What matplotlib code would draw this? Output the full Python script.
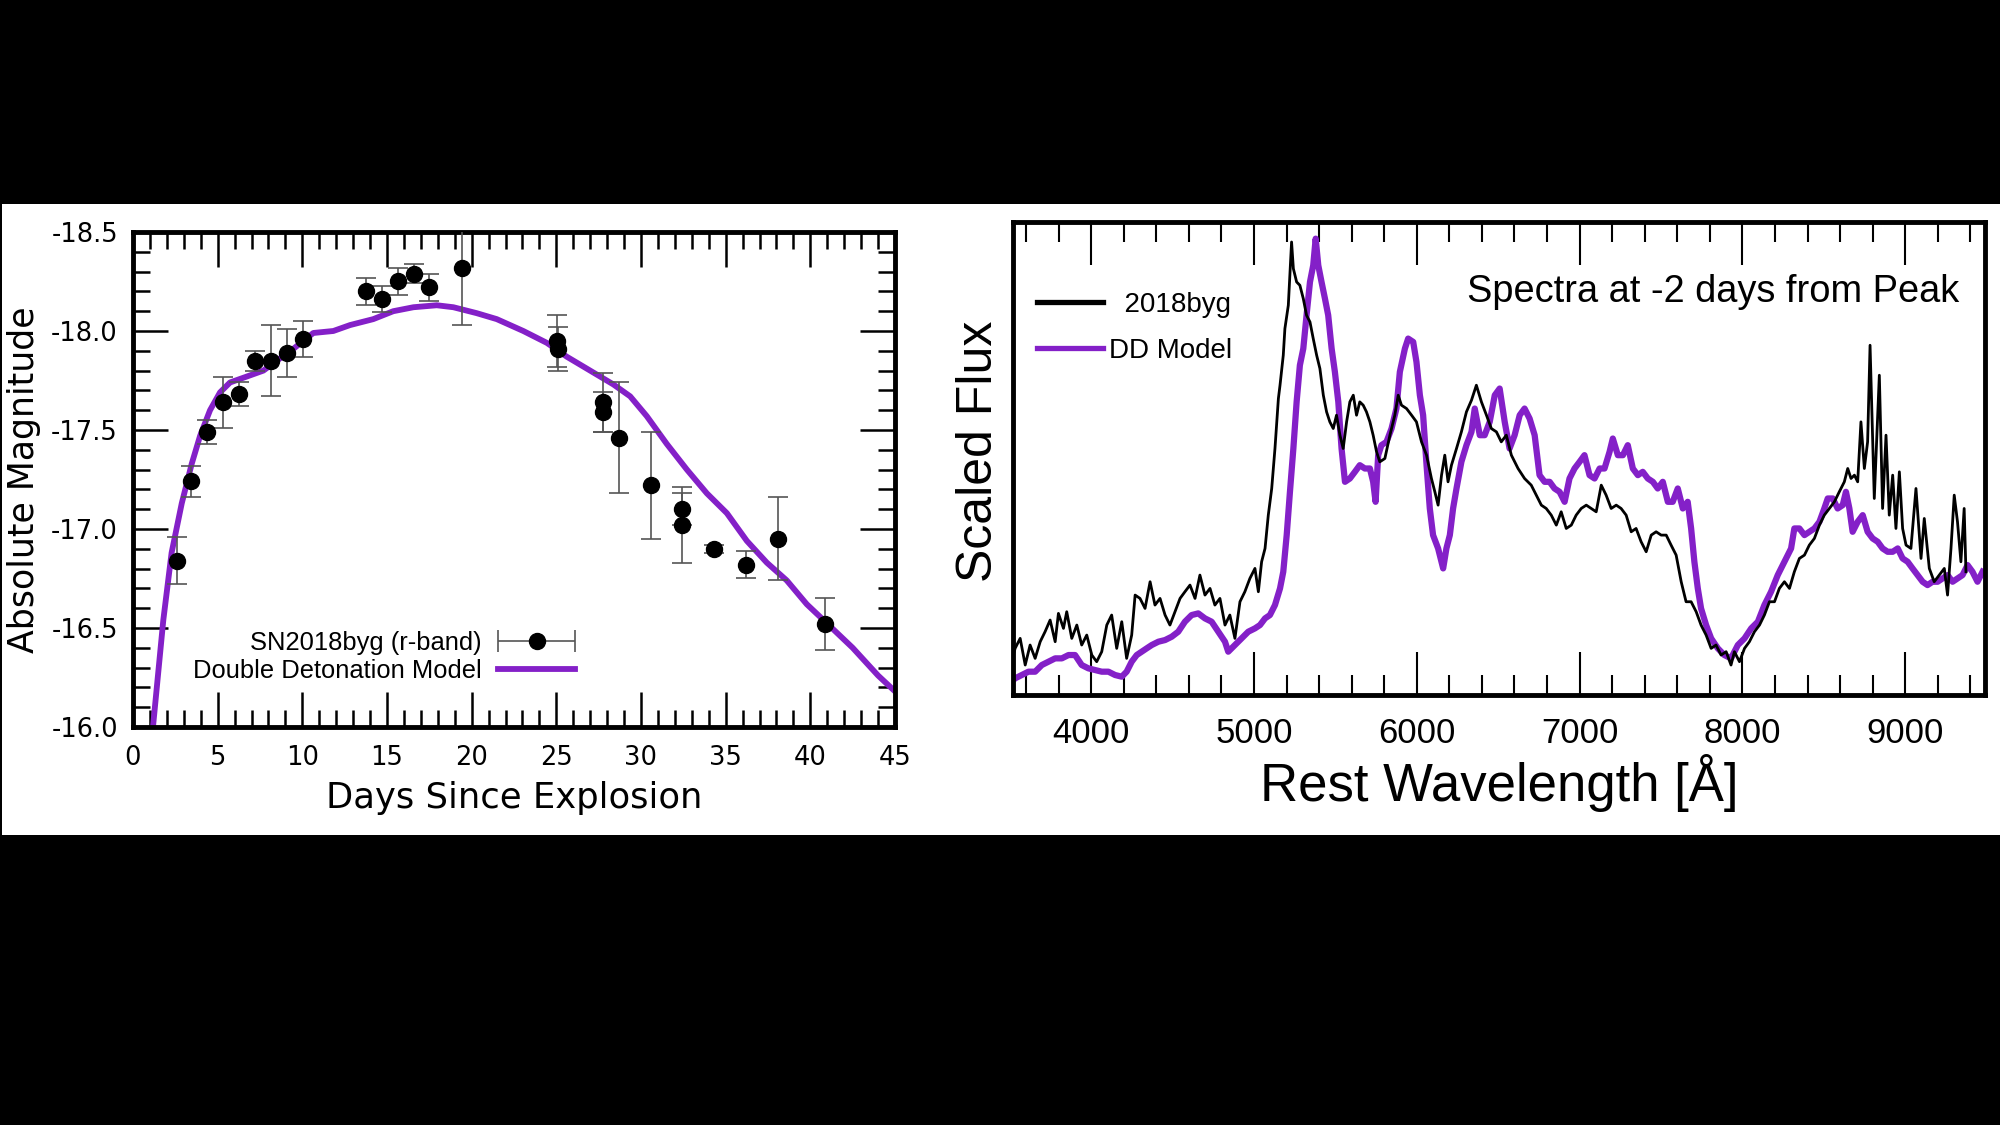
import matplotlib.pyplot as plt
import numpy as np
from matplotlib.patches import Rectangle
from matplotlib.ticker import MultipleLocator, FormatStrFormatter
from matplotlib.legend_handler import HandlerErrorbar

# ---- light curve (r-band) ----
days = [2.58, 3.41, 4.39, 5.30, 6.28, 7.21, 8.17, 9.08, 10.02, 13.74,
        14.73, 15.67, 16.60, 17.50, 19.41, 25.03, 25.08, 27.74, 27.74, 28.71,
        30.58, 32.45, 32.45, 34.34, 36.19, 38.08, 40.87]
mags = [-16.84, -17.24, -17.49, -17.64, -17.68, -17.85, -17.85, -17.89, -17.96, -18.20,
        -18.16, -18.25, -18.29, -18.22, -18.32, -17.95, -17.91, -17.64, -17.59, -17.46,
        -17.22, -17.10, -17.02, -16.90, -16.82, -16.95, -16.52]
mag_err = [0.12, 0.08, 0.06, 0.13, 0.06, 0.05, 0.18, 0.12, 0.09, 0.07,
           0.065, 0.07, 0.05, 0.07, 0.29, 0.13, 0.11, 0.15, 0.10, 0.28,
           0.27, 0.08, 0.19, 0.02, 0.07, 0.21, 0.13]

# double detonation model
model_days = [1.18, 1.79, 2.28, 2.88, 3.47, 3.96, 4.55, 5.14, 5.73, 6.72,
              7.70, 8.49, 9.47, 10.65, 11.83, 12.82, 14.19, 15.37, 16.56, 17.94,
              18.92, 20.30, 21.48, 23.05, 24.44, 25.62, 26.80, 28.37, 29.36, 30.34,
              31.52, 32.71, 33.89, 35.07, 36.25, 37.43, 38.61, 39.79, 40.78, 42.5,
              44.0, 45.0]
model_mags = [-16.00, -16.54, -16.88, -17.13, -17.33, -17.47, -17.60, -17.69, -17.74, -17.77,
              -17.80, -17.85, -17.91, -17.99, -18.00, -18.03, -18.06, -18.10, -18.12, -18.13,
              -18.12, -18.09, -18.06, -18.00, -17.94, -17.87, -17.81, -17.73, -17.67, -17.57,
              -17.43, -17.30, -17.18, -17.08, -16.94, -16.83, -16.74, -16.62, -16.54, -16.40,
              -16.26, -16.18]

# ---- spectra at -2 d (scaled flux, arbitrary units) ----
obs_wave = [3522, 3533, 3564, 3595, 3625, 3656, 3687, 3717, 3748, 3779,
            3799, 3830, 3850, 3881, 3912, 3942, 3973, 4004, 4034, 4065,
            4096, 4126, 4157, 4188, 4218, 4249, 4270, 4300, 4331, 4362,
            4392, 4423, 4454, 4484, 4515, 4546, 4576, 4607, 4638, 4668,
            4699, 4730, 4760, 4791, 4822, 4852, 4883, 4914, 4944, 4975,
            5006, 5027, 5047, 5068, 5088, 5109, 5129, 5150, 5160, 5180,
            5190, 5211, 5231, 5242, 5262, 5282, 5303, 5323, 5344, 5364,
            5385, 5405, 5426, 5446, 5466, 5487, 5507, 5528, 5548, 5569,
            5589, 5610, 5630, 5650, 5671, 5691, 5712, 5732, 5753, 5773,
            5804, 5835, 5865, 5886, 5906, 5937, 5968, 5998, 6029, 6060,
            6090, 6111, 6131, 6152, 6172, 6192, 6213, 6244, 6274, 6305,
            6336, 6366, 6397, 6428, 6458, 6489, 6519, 6550, 6581, 6622,
            6662, 6703, 6734, 6765, 6795, 6826, 6857, 6887, 6918, 6949,
            6979, 7010, 7041, 7071, 7102, 7133, 7163, 7194, 7225, 7255,
            7286, 7317, 7347, 7378, 7409, 7440, 7470, 7501, 7532, 7562,
            7593, 7624, 7654, 7685, 7716, 7746, 7777, 7808, 7838, 7869,
            7900, 7930, 7951, 7982, 8013, 8043, 8074, 8105, 8135, 8166,
            8197, 8227, 8258, 8289, 8319, 8350, 8381, 8411, 8442, 8473,
            8503, 8534, 8565, 8595, 8626, 8647, 8667, 8688, 8708, 8728,
            8749, 8769, 8784, 8810, 8841, 8861, 8882, 8902, 8923, 8943,
            8964, 8984, 9005, 9035, 9066, 9097, 9117, 9148, 9178, 9209,
            9240, 9260, 9281, 9301, 9321, 9342, 9362, 9373]
obs_flux = [12.0, 14.0, 17.0, 9.0, 15.0, 11.0, 16.0, 19.0, 22.5, 16.0,
            24.5, 20.0, 25.0, 17.0, 21.0, 15.0, 18.0, 12.0, 10.0, 13.0,
            21.0, 24.0, 14.0, 22.0, 11.0, 18.0, 30.0, 29.0, 26.0, 34.0,
            27.0, 29.0, 24.0, 21.0, 25.0, 29.0, 31.0, 33.0, 29.0, 36.0,
            30.0, 32.0, 27.0, 29.0, 21.0, 24.0, 17.0, 28.0, 31.0, 35.0,
            38.0, 31.0, 40.0, 44.0, 54.0, 62.0, 74.0, 89.0, 93.0, 102.0,
            110.0, 117.0, 136.0, 128.0, 124.0, 123.0, 119.0, 114.0, 112.0, 107.0,
            102.0, 98.0, 90.0, 85.0, 82.0, 80.0, 84.0, 78.0, 74.0, 82.0,
            88.0, 90.0, 84.0, 88.0, 87.0, 85.0, 82.0, 78.0, 73.0, 70.0,
            71.0, 78.0, 84.0, 90.0, 87.0, 86.0, 84.0, 82.0, 76.0, 72.0,
            65.0, 61.0, 57.0, 66.0, 72.0, 64.0, 69.0, 74.0, 79.0, 85.0,
            88.5, 93.0, 88.0, 84.0, 80.0, 79.0, 76.0, 78.0, 72.0, 68.0,
            65.0, 63.0, 60.0, 57.0, 56.0, 54.0, 51.0, 55.0, 50.0, 51.0,
            54.0, 56.0, 57.0, 56.0, 55.0, 63.0, 60.0, 56.0, 57.0, 56.0,
            54.0, 49.0, 50.0, 46.0, 43.0, 48.0, 49.0, 48.0, 48.0, 45.0,
            42.0, 34.0, 28.0, 28.0, 25.0, 21.0, 18.0, 14.0, 15.0, 12.0,
            13.0, 9.0, 13.0, 10.0, 14.0, 16.0, 19.0, 21.0, 24.0, 28.0,
            28.0, 32.0, 34.0, 32.0, 37.0, 41.0, 42.0, 45.0, 47.0, 51.0,
            54.0, 56.0, 58.0, 61.0, 64.0, 68.0, 65.0, 66.0, 64.0, 82.0,
            68.0, 76.0, 105.0, 59.0, 96.0, 56.0, 78.0, 54.0, 66.0, 50.0,
            67.0, 50.0, 45.0, 44.0, 62.0, 41.0, 53.0, 38.0, 34.0, 36.0,
            38.0, 30.0, 44.0, 60.0, 52.0, 40.0, 56.0, 37.0]

dd_wave = [3522, 3533, 3574, 3615, 3656, 3697, 3738, 3779, 3820, 3861,
           3901, 3942, 3983, 4024, 4065, 4106, 4147, 4188, 4218, 4249,
           4280, 4310, 4341, 4372, 4413, 4454, 4495, 4535, 4576, 4617,
           4658, 4699, 4740, 4781, 4822, 4842, 4883, 4924, 4965, 5006,
           5037, 5068, 5098, 5129, 5160, 5180, 5201, 5221, 5242, 5262,
           5282, 5303, 5323, 5344, 5364, 5379, 5395, 5415, 5436, 5456,
           5477, 5497, 5518, 5538, 5559, 5589, 5620, 5650, 5681, 5712,
           5732, 5747, 5763, 5783, 5814, 5845, 5875, 5896, 5927, 5947,
           5978, 5998, 6019, 6039, 6060, 6080, 6100, 6131, 6162, 6182,
           6203, 6223, 6244, 6274, 6305, 6336, 6356, 6387, 6417, 6448,
           6479, 6509, 6540, 6570, 6601, 6632, 6662, 6693, 6724, 6754,
           6785, 6816, 6846, 6877, 6908, 6938, 6969, 7000, 7030, 7061,
           7092, 7123, 7153, 7184, 7204, 7235, 7266, 7296, 7327, 7358,
           7388, 7419, 7450, 7480, 7511, 7542, 7572, 7603, 7634, 7664,
           7685, 7705, 7726, 7746, 7777, 7808, 7849, 7889, 7930, 7972,
           8013, 8054, 8095, 8135, 8176, 8217, 8258, 8299, 8319, 8350,
           8381, 8411, 8442, 8473, 8503, 8524, 8555, 8585, 8616, 8636,
           8657, 8677, 8708, 8739, 8769, 8800, 8831, 8861, 8892, 8923,
           8954, 8984, 9015, 9045, 9076, 9107, 9137, 9168, 9199, 9229,
           9260, 9291, 9321, 9352, 9383, 9413, 9444, 9475]
dd_flux = [4.5, 5.0, 6.0, 7.0, 7.0, 9.0, 10.0, 11.0, 11.0, 12.0,
           12.0, 9.0, 8.0, 7.5, 7.0, 7.0, 6.0, 5.5, 7.0, 10.0,
           12.0, 13.0, 14.0, 15.0, 16.0, 16.5, 17.5, 19.0, 22.0, 24.0,
           24.5, 23.0, 22.0, 19.0, 16.0, 13.0, 15.0, 17.0, 19.0, 20.0,
           21.0, 23.0, 24.0, 27.0, 32.0, 37.0, 48.0, 61.0, 74.0, 88.0,
           99.0, 104.0, 114.0, 124.0, 129.0, 137.0, 129.0, 124.0, 119.0, 114.0,
           104.0, 97.0, 88.0, 74.0, 64.0, 65.0, 67.0, 69.0, 68.0, 68.0,
           64.0, 58.0, 72.0, 75.0, 76.0, 80.0, 86.0, 97.0, 104.0, 107.0,
           106.0, 100.0, 90.0, 84.0, 69.0, 56.0, 48.0, 44.0, 38.0, 44.0,
           48.0, 56.0, 62.0, 70.0, 75.0, 79.0, 86.0, 78.0, 78.0, 82.0,
           90.0, 92.0, 82.0, 74.0, 78.0, 84.0, 86.0, 83.0, 78.0, 66.0,
           64.0, 64.0, 62.0, 61.0, 58.0, 65.0, 68.0, 70.0, 72.0, 66.0,
           65.0, 68.0, 68.0, 73.0, 77.0, 72.0, 72.0, 75.0, 68.0, 66.0,
           67.0, 65.0, 64.0, 62.0, 64.0, 58.0, 58.0, 62.0, 56.0, 58.0,
           50.0, 40.0, 32.0, 26.0, 21.0, 17.0, 14.0, 12.0, 11.0, 15.0,
           17.0, 20.0, 22.0, 27.0, 31.0, 36.0, 40.0, 44.0, 50.0, 50.0,
           48.0, 49.0, 50.0, 52.0, 56.0, 59.0, 59.0, 56.0, 57.0, 61.0,
           56.0, 49.0, 52.0, 54.0, 49.0, 47.0, 46.0, 44.0, 43.0, 43.0,
           44.0, 41.0, 40.0, 38.0, 36.0, 34.0, 33.0, 34.0, 34.0, 35.0,
           36.0, 34.0, 35.0, 36.0, 39.0, 37.0, 34.0, 37.0]

PURPLE = '#8420c8'
ARIAL = ['Liberation Sans', 'DejaVu Sans']
WIDE = ['DejaVu Sans']

plt.rcParams['font.family'] = ARIAL

fig = plt.figure(figsize=(20, 11.25), dpi=100, facecolor='black')
# white band holding both panels
fig.patches.append(Rectangle((0.001, 1 - 835 / 1125), 0.999, 631 / 1125,
                             transform=fig.transFigure, facecolor='white',
                             edgecolor='none', zorder=-1))

# ================= left panel: light curve =================
ax1 = fig.add_axes([0.0665, 0.35378, 0.381, 0.44])
model_line, = ax1.plot(model_days, model_mags, color=PURPLE, lw=4.2, zorder=2,
                       label='Double Detonation Model')
ax1.errorbar(days, mags, yerr=mag_err, fmt='o', color='black', ms=11.5,
             ecolor='#555555', elinewidth=1.2, capsize=7, capthick=1.2, zorder=3)
# legend proxy, drawn with a horizontal bar like the original
proxy = ax1.errorbar([np.nan], [np.nan], xerr=[1.0], fmt='o', color='black', ms=11.5,
                     ecolor='#555555', elinewidth=1.2, capsize=8, capthick=1.2,
                     label='SN2018byg (r-band)')

ax1.set_xlim(0, 45)
ax1.set_ylim(-16.0, -18.5)
ax1.xaxis.set_major_locator(MultipleLocator(5))
ax1.xaxis.set_minor_locator(MultipleLocator(1))
ax1.yaxis.set_major_locator(MultipleLocator(0.5))
ax1.yaxis.set_minor_locator(MultipleLocator(0.1))
ax1.yaxis.set_major_formatter(FormatStrFormatter('%.1f'))
ax1.tick_params(which='both', direction='in', top=True, right=True, width=1.8,
                labelfontfamily='DejaVu Sans')
ax1.tick_params(which='major', length=25, labelsize=18.5)
ax1.tick_params(which='minor', length=12)
ax1.tick_params(axis='x', which='major', pad=13)
ax1.tick_params(axis='y', which='major', pad=10.8)
for s in ax1.spines.values():
    s.set_linewidth(3.5)

ax1.set_xlabel('Days Since Explosion', fontsize=25.5, family=WIDE)
ax1.set_ylabel('Absolute Magnitude', fontsize=25, family=WIDE)
ax1.xaxis.set_label_coords(0.5, -0.109)
ax1.yaxis.set_label_coords(-0.121, 0.5)

ax1.legend([proxy, model_line], ['SN2018byg (r-band)', 'Double Detonation Model'],
           loc='center right', bbox_to_anchor=(0.58, 0.1414), frameon=False,
           markerfirst=False, prop={'family': ARIAL, 'size': 18.4},
           handlelength=3.0, handletextpad=0.66, labelspacing=0.14,
           borderpad=0, borderaxespad=0,
           handler_map={proxy: HandlerErrorbar(xerr_size=1.5)})

# ================= right panel: spectra =================
ax2 = fig.add_axes([0.5065, 0.38222, 0.486, 0.42044])
ax2.plot(obs_wave, obs_flux, color='black', lw=2.0, zorder=3, label='  2018byg')
ax2.plot(dd_wave, dd_flux, color=PURPLE, lw=4.5, zorder=2, label='DD Model')

ax2.set_xlim(3520, 9490)
ax2.set_ylim(0, 142)
ax2.xaxis.set_major_locator(MultipleLocator(1000))
ax2.xaxis.set_minor_locator(MultipleLocator(200))
ax2.xaxis.set_major_formatter(FormatStrFormatter('%d'))
ax2.tick_params(which='both', direction='in', top=True, bottom=True, left=False,
                right=False, labelleft=False, width=1.5)
ax2.tick_params(which='major', length=31, labelsize=25, pad=15.8)
ax2.tick_params(which='minor', length=14.4)
for s in ax2.spines.values():
    s.set_linewidth(3.5)

ax2.set_xlabel('Rest Wavelength [Å]', fontsize=38)
ax2.set_ylabel('Scaled Flux', fontsize=36)
ax2.xaxis.set_label_coords(0.5, -0.1247)
ax2.yaxis.set_label_coords(-0.011, 0.515)

ax2.text(0.973, 0.831, 'Spectra at -2 days from Peak', transform=ax2.transAxes,
         ha='right', va='baseline', fontsize=27.4)

leg = ax2.legend(loc='center left', bbox_to_anchor=(0.0247, 0.776), frameon=False,
                 prop={'size': 20}, handlelength=2.37, handletextpad=0.22,
                 labelspacing=0.72, borderpad=0, borderaxespad=0)
for ln in leg.get_lines():
    ln.set_linewidth(3.8)

fig.savefig('out.png', dpi=100, facecolor=fig.get_facecolor())
